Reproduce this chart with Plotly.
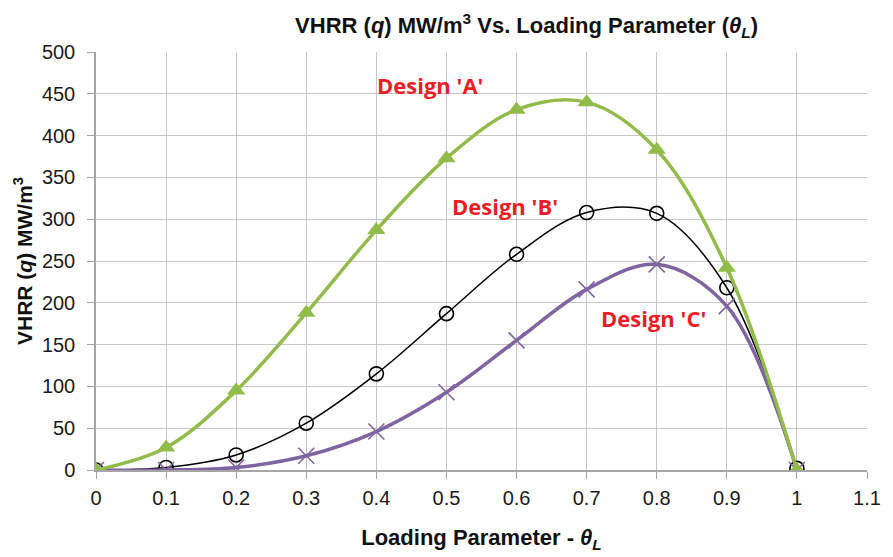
import plotly.graph_objects as go

theta = [0, 0.1, 0.2, 0.3, 0.4, 0.5, 0.6, 0.7, 0.8, 0.9, 1.0]
design_a = [0, 27, 95, 188, 287, 373, 431, 440, 383, 242, 0]
design_b = [0, 3, 18, 56, 115, 187, 258, 308, 307, 218, 2]
design_c = [0, 0, 3, 17, 46, 93, 155, 216, 246, 196, 0]

x_ticks = [0, 0.1, 0.2, 0.3, 0.4, 0.5, 0.6, 0.7, 0.8, 0.9, 1.0, 1.1]
x_tick_labels = ["0", "0.1", "0.2", "0.3", "0.4", "0.5", "0.6", "0.7", "0.8", "0.9", "1", "1.1"]
y_ticks = [0, 50, 100, 150, 200, 250, 300, 350, 400, 450, 500]

labels = ["Design 'A'", "Design 'B'", "Design 'C'"]
label_x = [0.476, 0.583, 0.795]
label_y = [460, 316, 182]

fig = go.Figure()
fig.add_trace(go.Scatter(
    x=theta, y=design_b, mode="lines+markers", name=labels[1],
    line=dict(color="black", width=1.5, shape="spline", smoothing=1.0),
    marker=dict(symbol="circle-open", size=14, color="black", line=dict(width=1.6)),
))
fig.add_trace(go.Scatter(
    x=theta, y=design_c, mode="lines+markers", name=labels[2],
    line=dict(color="#8064a2", width=3.5, shape="spline", smoothing=1.0),
    marker=dict(symbol="x-thin", size=16, color="#8064a2", line=dict(width=1.6, color="#8064a2")),
))
fig.add_trace(go.Scatter(
    x=theta, y=design_a, mode="lines+markers", name=labels[0],
    line=dict(color="#92bc4a", width=3.5, shape="spline", smoothing=1.0),
    marker=dict(symbol="triangle-up", size=16, color="#92bc4a"),
))

for t, xx, yy in zip(labels, label_x, label_y):
    fig.add_annotation(x=xx, y=yy, text="<b>" + t + "</b>", showarrow=False,
                       font=dict(family="Open Sans, Lato, sans-serif", size=22, color="#ee1c25"),
                       xanchor="center", yanchor="middle")

# page has an 8px default body margin; compensate so the plot area lands where the reference has it
fig.update_layout(
    width=885, height=549,
    margin=dict(l=88, r=26, t=44, b=87),
    paper_bgcolor="white", plot_bgcolor="white",
    showlegend=False,
    font=dict(family="Liberation Sans, Arial, sans-serif", color="#111111"),
    title=dict(
        text="<b>VHRR (<i>q</i>) MW/m<sup>3</sup> Vs. Loading Parameter (<i>θ<sub>L</sub></i>)</b>",
        x=0.586, xanchor="center", y=0.968, yanchor="middle",
        font=dict(size=22, color="#111111"),
    ),
    xaxis=dict(
        range=[0, 1.1], tickvals=x_ticks, ticktext=x_tick_labels,
        showgrid=True, gridcolor="#c6c6c6", gridwidth=1.2,
        showline=True, linecolor="#a6a6a6", linewidth=1.5,
        ticks="outside", ticklen=7, tickcolor="#a6a6a6",
        tickfont=dict(size=20, color="#1a1a1a"), ticklabelstandoff=2,
        zeroline=False, mirror=False, automargin=False,
        title=dict(text="<b>Loading Parameter - <i>θ<sub>L</sub></i></b>",
                   font=dict(size=22, color="#111111"), standoff=22),
    ),
    yaxis=dict(
        range=[0, 500], tickvals=y_ticks,
        showgrid=True, gridcolor="#c6c6c6", gridwidth=1.2,
        showline=True, linecolor="#a6a6a6", linewidth=1.5,
        ticks="outside", ticklen=7, tickcolor="#a6a6a6",
        tickfont=dict(size=20, color="#1a1a1a"), ticklabelstandoff=8,
        zeroline=False, automargin=False,
        title=dict(text="<b>VHRR (<i>q</i>) MW/m<sup>3</sup></b>",
                   font=dict(size=21, color="#111111"), standoff=4),
    ),
)

fig.write_html("out.html")
